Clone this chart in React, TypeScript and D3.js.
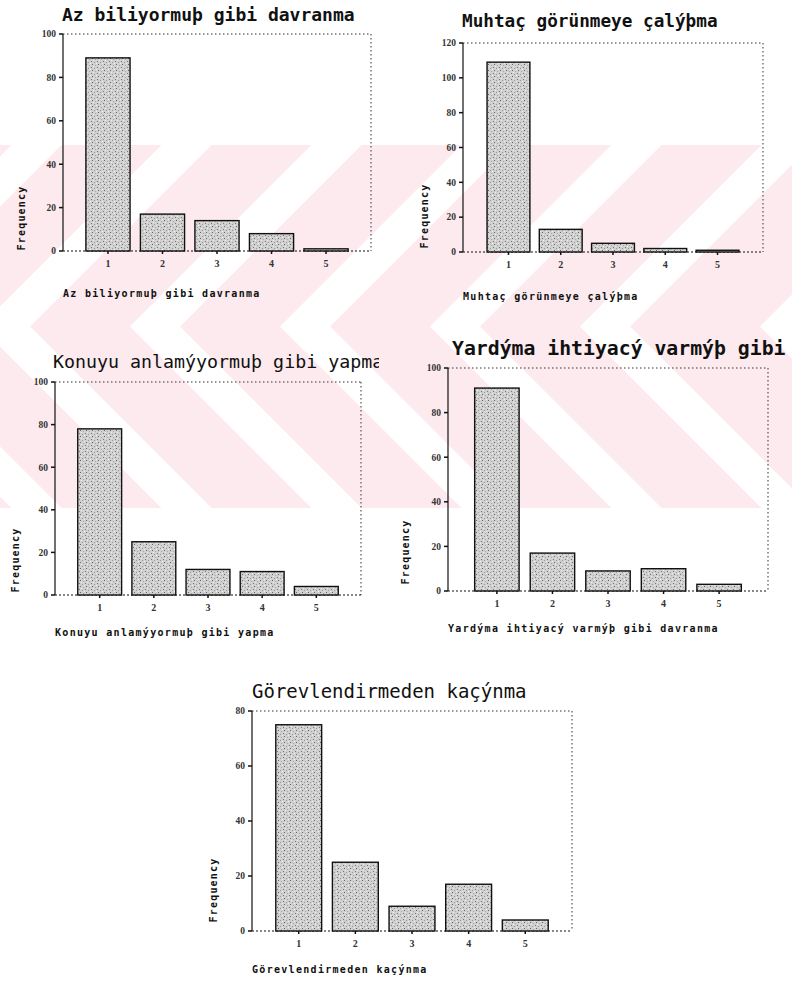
import React from "react";
import * as d3 from "d3";

// ---------- data ----------
const CATEGORIES = ["1", "2", "3", "4", "5"];

const AZ_VALUES = [89, 17, 14, 8, 1];
const MUHTAC_VALUES = [109, 13, 5, 2, 1];
const KONUYU_VALUES = [78, 25, 12, 11, 4];
const YARDIMA_VALUES = [91, 17, 9, 10, 3];
const GOREV_VALUES = [75, 25, 9, 17, 4];

const TICKS_100 = [0, 20, 40, 60, 80, 100];
const TICKS_120 = [0, 20, 40, 60, 80, 100, 120];
const TICKS_80 = [0, 20, 40, 60, 80];

const TITLES = [
  "Az biliyormuþ gibi davranma",
  "Muhtaç görünmeye çalýþma",
  "Konuyu anlamýyormuþ gibi yapma",
  "Yardýma ihtiyacý varmýþ gibi",
  "Görevlendirmeden kaçýnma",
];
const AXIS_TITLES = [
  "Az biliyormuþ gibi davranma",
  "Muhtaç görünmeye çalýþma",
  "Konuyu anlamýyormuþ gibi yapma",
  "Yardýma ihtiyacý varmýþ gibi davranma",
  "Görevlendirmeden kaçýnma",
];
const Y_LABEL = "Frequency";

// watermark chevron bands (u = x - |y - mid|)
const WATERMARK_BANDS = [
  [-200, -170],
  [-120, -20],
  [30, 130],
  [180, 280],
  [330, 430],
  [480, 580],
  [630, 760],
];

// ---------- layout ----------
const LAYOUTS = [
  { left: 63, right: 371, top: 34, bottom: 251, pi: 0.19, po: 0.42, titleX: 62, titleY: 21, titleSize: 18, titleWeight: "bold", clipX: 792, yLabX: 21, yLabY: 218, axisTitleY: 297 },
  { left: 463, right: 763, top: 43, bottom: 252, pi: 0.18, po: 0.46, titleX: 462, titleY: 27, titleSize: 17.7, titleWeight: "bold", clipX: 792, yLabX: 424, yLabY: 216, axisTitleY: 300 },
  { left: 55, right: 361, top: 382, bottom: 595, pi: 0.19, po: 0.42, titleX: 53, titleY: 368, titleSize: 18.3, titleWeight: "normal", clipX: 379, yLabX: 15, yLabY: 560, axisTitleY: 636 },
  { left: 448, right: 768, top: 368, bottom: 591, pi: 0.2, po: 0.48, titleX: 452, titleY: 355, titleSize: 19.8, titleWeight: "bold", clipX: 792, yLabX: 405, yLabY: 552, axisTitleY: 632 },
  { left: 252, right: 572, top: 711, bottom: 931, pi: 0.19, po: 0.42, titleX: 252, titleY: 698, titleSize: 19, titleWeight: "normal", clipX: 792, yLabX: 213, yLabY: 890, axisTitleY: 973 },
];

const PANELS = [
  { values: AZ_VALUES, ticks: TICKS_100, max: 100 },
  { values: MUHTAC_VALUES, ticks: TICKS_120, max: 120 },
  { values: KONUYU_VALUES, ticks: TICKS_100, max: 100 },
  { values: YARDIMA_VALUES, ticks: TICKS_100, max: 100 },
  { values: GOREV_VALUES, ticks: TICKS_80, max: 80 },
];

const MONO = "'DejaVu Sans Mono', monospace";
const SERIF = "'Liberation Serif', 'DejaVu Serif', serif";

function Watermark() {
  const top = 145;
  const bottom = 508;
  const mid = (top + bottom) / 2;
  const h = mid - top;
  return (
    <g clipPath="url(#wmclip)">
      {WATERMARK_BANDS.map(([a, b], i) => {
        const pts = [
          [a + h, top],
          [b + h, top],
          [b, mid],
          [b + h, bottom],
          [a + h, bottom],
          [a, mid],
        ];
        return <polygon key={i} points={pts.map((p) => p.join(",")).join(" ")} fill="#fdeaee" />;
      })}
    </g>
  );
}

function BarPanel({ idx }: { idx: number }) {
  const L = LAYOUTS[idx];
  const P = PANELS[idx];
  const x = d3
    .scaleBand<string>()
    .domain(CATEGORIES)
    .range([L.left, L.right])
    .paddingInner(L.pi)
    .paddingOuter(L.po);
  const y = d3.scaleLinear().domain([0, P.max]).range([L.bottom, L.top]);
  const bw = x.bandwidth();

  return (
    <g>
      <defs>
        <clipPath id={`tclip${idx}`}>
          <rect x={0} y={L.titleY - 30} width={L.clipX} height={45} />
        </clipPath>
      </defs>
      <text
        x={L.titleX}
        y={L.titleY}
        fontFamily={MONO}
        fontSize={L.titleSize}
        fontWeight={L.titleWeight}
        fill="#111"
        clipPath={`url(#tclip${idx})`}
      >
        {TITLES[idx]}
      </text>
      <line x1={L.left} x2={L.right} y1={L.top} y2={L.top} stroke="#333" strokeWidth={1} strokeDasharray="1.5 2.5" />
      <line x1={L.right} x2={L.right} y1={L.top} y2={L.bottom} stroke="#333" strokeWidth={1} strokeDasharray="1.5 2.5" />
      <line x1={L.left} x2={L.right} y1={L.bottom} y2={L.bottom} stroke="#111" strokeWidth={1.2} strokeDasharray="2 2" />
      <line x1={L.left} x2={L.left} y1={L.top} y2={L.bottom} stroke="#111" strokeWidth={1.2} />
      {P.ticks.map((t) => (
        <g key={t}>
          <line x1={L.left - 4} x2={L.left} y1={y(t)} y2={y(t)} stroke="#111" strokeWidth={1.5} />
          <text
            x={L.left - 7}
            y={y(t)}
            dy="0.35em"
            textAnchor="end"
            fontFamily={SERIF}
            fontSize={9.5}
            fontWeight="bold"
            fill="#333"
          >
            {t}
          </text>
        </g>
      ))}
      {CATEGORIES.map((c, i) => (
        <rect
          key={c}
          x={x(c)}
          y={y(P.values[i])}
          width={bw}
          height={L.bottom - y(P.values[i])}
          fill="url(#stipple)"
          stroke="#111"
          strokeWidth={1.4}
        />
      ))}
      {CATEGORIES.map((c) => (
        <g key={c}>
          <line
            x1={(x(c) as number) + bw / 2}
            x2={(x(c) as number) + bw / 2}
            y1={L.bottom}
            y2={L.bottom + 3}
            stroke="#111"
            strokeWidth={1.5}
          />
          <text
            x={(x(c) as number) + bw / 2}
            y={L.bottom + 12}
            dy="0.35em"
            textAnchor="middle"
            fontFamily={SERIF}
            fontSize={10}
            fontWeight="bold"
            fill="#333"
          >
            {c}
          </text>
        </g>
      ))}
      <text
        transform={`translate(${L.yLabX},${L.yLabY}) rotate(-90)`}
        textAnchor="middle"
        dy="0.35em"
        fontFamily={MONO}
        fontSize={10}
        fontWeight="bold"
        letterSpacing={1.2}
        fill="#111"
      >
        {Y_LABEL}
      </text>
      <text
        x={L.left}
        y={L.axisTitleY}
        fontFamily={MONO}
        fontSize={10}
        fontWeight="bold"
        letterSpacing={1.3}
        fill="#111"
      >
        {AXIS_TITLES[idx]}
      </text>
    </g>
  );
}

export default function App() {
  return (
    <svg
      width={792}
      height={984}
      style={{ position: "absolute", left: 0, top: 0, background: "#fff" }}
    >
      <defs>
        <clipPath id="wmclip">
          <rect x={0} y={145} width={792} height={363} />
        </clipPath>
        <pattern id="stipple" width={6} height={6} patternUnits="userSpaceOnUse">
          <rect width={6} height={6} fill="#d0d0d0" />
          <rect x={1} y={1} width={1} height={1} fill="#777" />
          <rect x={4} y={2} width={1} height={1} fill="#999" />
          <rect x={2} y={4} width={1} height={1} fill="#666" />
          <rect x={5} y={5} width={1} height={1} fill="#aaa" />
          <rect x={3} y={0} width={1} height={1} fill="#eee" />
          <rect x={0} y={3} width={1} height={1} fill="#f2f2f2" />
        </pattern>
      </defs>
      <rect width={792} height={984} fill="#fff" />
      <Watermark />
      {PANELS.map((_, i) => (
        <BarPanel key={i} idx={i} />
      ))}
    </svg>
  );
}
